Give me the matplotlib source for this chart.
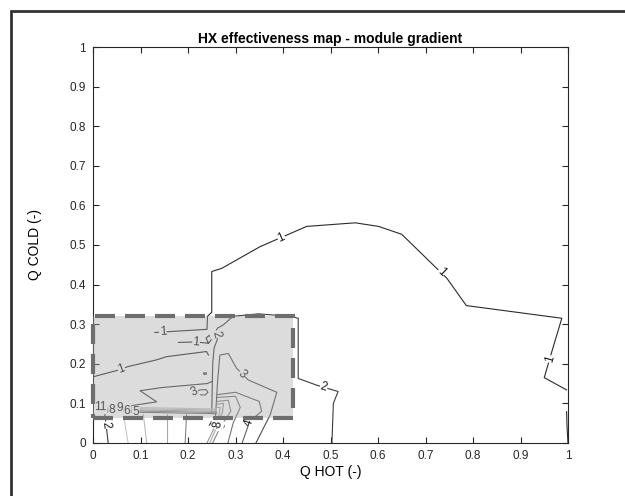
import numpy as np
import matplotlib.pyplot as plt
from matplotlib.patches import Rectangle

plt.rcParams['font.family'] = ['Liberation Sans', 'DejaVu Sans']

# ---- contour polylines (Q HOT, Q COLD), one pair of lists per segment ----
# level 1
c1_arc_x = [0.13, 0.24, 0.241, 0.25, 0.25, 0.271, 0.352, 0.45, 0.552, 0.601,
            0.65, 0.745, 0.786, 0.987, 0.966, 0.95, 0.997]
c1_arc_y = [0.279, 0.287, 0.32, 0.33, 0.433, 0.441, 0.496, 0.547, 0.556, 0.547,
            0.527, 0.416, 0.347, 0.315, 0.231, 0.165, 0.134]
c1_inner_x = [0.18, 0.215, 0.243, 0.25, 0.245, 0.238, 0.243]
c1_inner_y = [0.254, 0.255, 0.252, 0.262, 0.272, 0.265, 0.252]
c1_low_x = [0.0, 0.053, 0.074, 0.134, 0.155, 0.239, 0.243]
c1_low_y = [0.167, 0.184, 0.193, 0.21, 0.218, 0.231, 0.222]
c1_edge_x = [0.997, 0.998, 1.0]
c1_edge_y = [0.079, 0.04, 0.0]

# level 2
c2_main_x = [0.25, 0.252, 0.255, 0.262, 0.258, 0.262, 0.274, 0.295, 0.348,
             0.415, 0.432, 0.432, 0.471, 0.516, 0.506, 0.503]
c2_main_y = [0.075, 0.20, 0.24, 0.262, 0.28, 0.29, 0.298, 0.32, 0.326,
             0.32, 0.315, 0.163, 0.146, 0.13, 0.1, 0.0]
c2_zig_x = [0.0, 0.134, 0.099, 0.145, 0.24, 0.25]
c2_zig_y = [0.079, 0.104, 0.132, 0.14, 0.15, 0.155]
c2_corner_x = [0.025, 0.032]
c2_corner_y = [0.072, 0.0]

# level 3
c3_main_x = [0.258, 0.262, 0.267, 0.285, 0.302, 0.327, 0.383, 0.387, 0.373, 0.343]
c3_main_y = [0.07, 0.15, 0.222, 0.226, 0.189, 0.159, 0.13, 0.128, 0.071, 0.0]
c3_loop_x = [0.214, 0.225, 0.238, 0.242, 0.236, 0.222, 0.214]
c3_loop_y = [0.128, 0.134, 0.135, 0.128, 0.121, 0.122, 0.128]
c3_dot_x = [0.233, 0.238, 0.239, 0.234, 0.233]
c3_dot_y = [0.176, 0.178, 0.174, 0.173, 0.176]

# levels 4-8 near the bottom
c4_x = [0.262, 0.30, 0.35, 0.355, 0.33, 0.314]
c4_y = [0.122, 0.128, 0.105, 0.08, 0.055, 0.0]
c5_x = [0.262, 0.30, 0.31, 0.295, 0.284]
c5_y = [0.115, 0.118, 0.09, 0.05, 0.0]
c6_x = [0.262, 0.285, 0.29, 0.268, 0.252]
c6_y = [0.105, 0.108, 0.08, 0.04, 0.0]
c7_x = [0.262, 0.275, 0.272, 0.258, 0.24]
c7_y = [0.098, 0.10, 0.075, 0.045, 0.0]
c8_x = [0.262, 0.268, 0.265, 0.262, 0.246]
c8_y = [0.09, 0.09, 0.07, 0.045, 0.0]

# thin band of high levels along the lower left
band_x = [0.0, 0.12, 0.26]
b5_y = [0.079, 0.077, 0.074]
b6_y = [0.082, 0.080, 0.077]
b8_y = [0.085, 0.083, 0.080]
b9_y = [0.088, 0.086, 0.083]
b11_y = [0.091, 0.089, 0.086]
drop_top_x = [0.064, 0.106, 0.155, 0.197]
drop_bot_x = [0.074, 0.113, 0.155, 0.194]
drop_levels = [11, 9, 8, 6]

contours = {
    'c1_arc': (1, c1_arc_x, c1_arc_y),
    'c1_inner': (1, c1_inner_x, c1_inner_y),
    'c1_low': (1, c1_low_x, c1_low_y),
    'c1_edge': (1, c1_edge_x, c1_edge_y),
    'c2_main': (2, c2_main_x, c2_main_y),
    'c2_zig': (2, c2_zig_x, c2_zig_y),
    'c2_corner': (2, c2_corner_x, c2_corner_y),
    'c3_main': (3, c3_main_x, c3_main_y),
    'c3_loop': (3, c3_loop_x, c3_loop_y),
    'c3_dot': (3, c3_dot_x, c3_dot_y),
    'c4': (4, c4_x, c4_y),
    'c5': (5, c5_x, c5_y),
    'c6': (6, c6_x, c6_y),
    'c7': (7, c7_x, c7_y),
    'c8': (8, c8_x, c8_y),
    'b5': (5, band_x, b5_y),
    'b6': (6, band_x, b6_y),
    'b8': (8, band_x, b8_y),
    'b9': (9, band_x, b9_y),
    'b11': (11, band_x, b11_y),
}
for i, (xt, xb, lv) in enumerate(zip(drop_top_x, drop_bot_x, drop_levels)):
    contours[f'drop{i}'] = (lv, [xt, xb], [0.072, 0.0])

# where the inline level labels sit: (segment, x, y)
label_spots = [
    ('c1_arc', 0.147, 0.281), ('c1_arc', 0.397, 0.517), ('c1_arc', 0.731, 0.428),
    ('c1_arc', 0.962, 0.212), ('c1_inner', 0.217, 0.255), ('c1_low', 0.06, 0.187),
    ('c2_main', 0.262, 0.275), ('c2_main', 0.485, 0.138), ('c2_corner', 0.028, 0.045),
    ('c3_main', 0.313, 0.172), ('c3_loop', 0.214, 0.128),
    ('c4', 0.33, 0.05), ('c6', 0.27, 0.045), ('c7', 0.258, 0.045), ('c8', 0.262, 0.047),
    ('b11', 0.016, 0.09), ('b8', 0.04, 0.084),
    ('b9', 0.056, 0.087), ('b6', 0.072, 0.081), ('b5', 0.09, 0.078),
]

# highlighted region
box_x0, box_x1 = 0.0, 0.42
box_y0, box_y1 = 0.063, 0.321


def level_color(level):
    g = min(0.17 + 0.07 * (level - 1), 0.78)
    return (g, g, g)


def put_label(ax, xs, ys, level, px, py):
    pts = ax.transData.transform(np.column_stack([xs, ys]))
    p = ax.transData.transform((px, py))
    best = None
    for a, b in zip(pts[:-1], pts[1:]):
        ab = b - a
        t = np.clip(np.dot(p - a, ab) / max(np.dot(ab, ab), 1e-9), 0, 1)
        q = a + t * ab
        d = np.hypot(*(p - q))
        if best is None or d < best[0]:
            best = (d, q, ab)
    _, q, ab = best
    ang = np.degrees(np.arctan2(ab[1], ab[0]))
    if ang > 90:
        ang -= 180
    elif ang < -90:
        ang += 180
    x, y = ax.transData.inverted().transform(q)
    ax.text(x, y, str(level), rotation=ang, rotation_mode='anchor',
            ha='center', va='center', fontsize=8.5, color='#1a1a1a',
            bbox=dict(fc='white', ec='none', pad=0.3), zorder=3)


fig = plt.figure(figsize=(6.25, 4.96), dpi=100)
ax = fig.add_axes([0.1488, 0.1069, 0.76, 0.7983])
ax.set_xlim(0, 1)
ax.set_ylim(0, 1)

for name, (lv, xs, ys) in contours.items():
    ax.plot(xs, ys, color=level_color(lv), lw=0.8, zorder=2)

for name, px, py in label_spots:
    lv, xs, ys = contours[name]
    put_label(ax, xs, ys, lv, px, py)

# shaded region over the low-flow corner
ax.add_patch(Rectangle((box_x0, box_y0), box_x1 - box_x0, box_y1 - box_y0,
                       fc='#a9a9a9', ec='none', alpha=0.4, zorder=4, clip_on=False))
ax.add_patch(Rectangle((box_x0, box_y0), box_x1 - box_x0, box_y1 - box_y0,
                       fc='none', ec='#6e6e6e', lw=3, ls=(0, (4.8, 2.4)),
                       zorder=5, clip_on=False))

ticks = np.round(np.arange(0, 1.01, 0.1), 1)
tick_labels = ['0'] + [f'{t:g}' for t in ticks[1:-1]] + ['1']
ax.set_xticks(ticks)
ax.set_xticklabels(tick_labels)
ax.set_yticks(ticks)
ax.set_yticklabels(tick_labels)
ax.tick_params(direction='in', length=4, width=0.8, top=True, right=True,
               labelsize=8.5, colors='#262626', pad=5)
for sp in ax.spines.values():
    sp.set_linewidth(0.8)
    sp.set_color('#262626')

ax.set_title('HX effectiveness map - module gradient', fontsize=10, fontweight='bold', pad=3)
ax.set_xlabel('Q HOT (-)', fontsize=10, labelpad=2)
ax.set_ylabel('Q COLD (-)', fontsize=10, labelpad=20)

# outer frame of the figure window
fig.add_artist(Rectangle((11 / 625, -0.1), 1.2, 1 - 11 / 496 + 0.1,
                         transform=fig.transFigure, fc='none', ec='#333333', lw=2))

fig.savefig('out.png', dpi=100)
